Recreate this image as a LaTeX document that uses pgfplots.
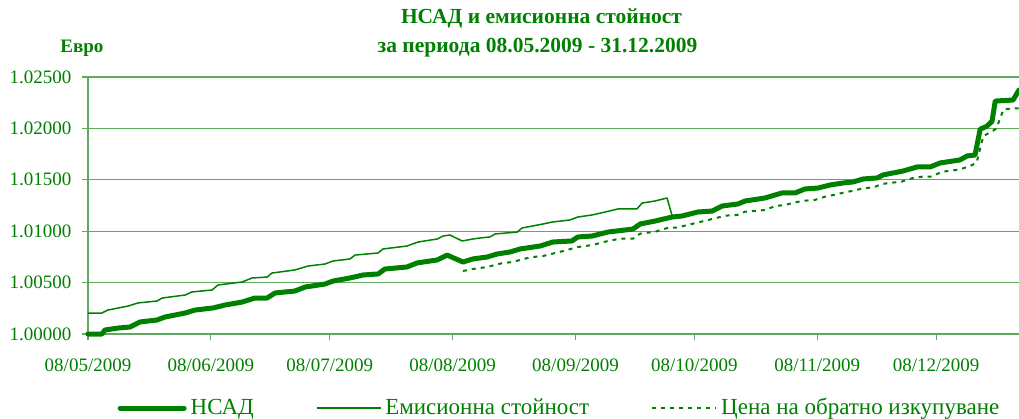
\documentclass[border=0pt]{standalone}
\usepackage{pgfplots}
\pgfplotsset{compat=1.18}
\usepackage{fontspec}
\setmainfont{Liberation Serif}
\definecolor{tgreen}{RGB}{0,128,0}
\definecolor{lgreen}{RGB}{0,128,0}
\definecolor{agreen}{RGB}{96,170,96}
\begin{document}
\fontsize{19bp}{22bp}\selectfont
\begin{tikzpicture}
\begin{axis}[
  at={(0,0)}, anchor=south west,
  scale only axis, width=931bp, height=257bp,
  xmin=0, xmax=234.9, ymin=1, ymax=1.025,
  clip=false,
  axis lines=left,
  axis line style={-, draw=agreen, line width=1.2bp},
  ymajorgrids, grid style={draw=agreen, line width=1.1bp},
  tick align=outside, major tick length=6bp,
  tick style={draw=agreen, line width=1.1bp},
  xtick={0,31,61,92,123,153,184,214},
  xticklabels={08/05/2009,08/06/2009,08/07/2009,08/08/2009,08/09/2009,08/10/2009,08/11/2009,08/12/2009},
  ytick={1,1.005,1.01,1.015,1.02,1.025},
  yticklabels={1.00000,1.00500,1.01000,1.01500,1.02000,1.02500},
  ticklabel style={text=tgreen, font=\fontsize{19bp}{22bp}\selectfont},
  x tick label style={yshift=-12bp},
  y tick label style={xshift=-4bp},
  legend columns=3,
  legend cell align=left,
  legend style={draw=none, fill=none, at={(0.5,0)}, anchor=center, yshift=-74bp, xshift=7bp,
    font=\fontsize{23bp}{26bp}\selectfont, text=tgreen,
    /tikz/every even column/.append style={column sep=58bp},
    nodes={inner xsep=4bp}},
  legend image code/.code={\draw[#1] (0bp,0bp) -- (64bp,0bp);},
]
\addplot[lgreen, line width=5bp, line join=round, line cap=round] coordinates {
(0,1.00000)(3.5,1.00000)(4.3,1.00039)(7.6,1.00058)(10.6,1.00068)(13.1,1.00117)(17.4,1.00136)(19.4,1.00165)(24.5,1.00204)(27.0,1.00233)(31.5,1.00253)(34.6,1.00282)(38.9,1.00311)(42.1,1.00350)(45.2,1.00350)(47.2,1.00399)(52.2,1.00418)(54.8,1.00457)(59.8,1.00486)(61.8,1.00515)(66.1,1.00545)(69.4,1.00574)(73.2,1.00584)(74.9,1.00632)(80.5,1.00652)(83.0,1.00691)(88.1,1.00720)(90.6,1.00768)(94.6,1.00700)(97.1,1.00730)(100.7,1.00749)(103.2,1.00778)(106.5,1.00798)(109.0,1.00827)(114.1,1.00856)(117.3,1.00895)(122.1,1.00905)(123.6,1.00944)(127.2,1.00953)(131.2,1.00992)(137.5,1.01021)(139.3,1.01070)(143.1,1.01099)(147.4,1.01138)(149.9,1.01148)(153.9,1.01187)(157.5,1.01196)(160.0,1.01245)(164.0,1.01265)(165.8,1.01294)(170.8,1.01323)(175.1,1.01372)(178.4,1.01372)(180.9,1.01411)(184.2,1.01420)(187.2,1.01449)(190.5,1.01469)(193.0,1.01479)(195.6,1.01508)(199.1,1.01518)(200.6,1.01547)(205.7,1.01586)(209.2,1.01625)(212.5,1.01625)(215.0,1.01664)(220.0,1.01693)(221.8,1.01732)(223.8,1.01741)(225.1,1.01992)(226.8,1.02021)(228.1,1.02070)(228.9,1.02266)(233.4,1.02276)(234.9,1.02374)
};
\addlegendentry{НСАД}
\addplot[lgreen, line width=1.5bp, line join=round] coordinates {
(0,1.00204)(3.5,1.00204)(5.0,1.00233)(10.1,1.00272)(12.6,1.00302)(17.4,1.00321)(18.7,1.00350)(24.5,1.00379)(26.2,1.00409)(31.3,1.00428)(32.8,1.00477)(38.9,1.00506)(41.4,1.00545)(45.2,1.00554)(46.4,1.00593)(52.2,1.00623)(55.5,1.00661)(59.8,1.00681)(61.8,1.00710)(66.1,1.00730)(67.4,1.00768)(73.2,1.00788)(74.4,1.00827)(80.5,1.00856)(83.3,1.00895)(88.1,1.00924)(89.6,1.00953)(91.3,1.00963)(94.4,1.00905)(97.1,1.00924)(98.9,1.00934)(101.4,1.00944)(102.7,1.00973)(108.3,1.00992)(109.5,1.01031)(114.8,1.01070)(117.1,1.01089)(121.6,1.01109)(123.6,1.01138)(127.2,1.01158)(130.5,1.01187)(133.7,1.01216)(138.5,1.01216)(139.8,1.01274)(143.1,1.01294)(146.1,1.01323)(147.4,1.01148)
};
\addlegendentry{Емисионна стойност}
\addplot[lgreen, line width=2bp, dash pattern=on 4bp off 5bp] coordinates {
(94.6,1.00613)(97.1,1.00632)(100.7,1.00652)(104.7,1.00691)(107.2,1.00700)(109.8,1.00730)(112.3,1.00749)(114.8,1.00759)(119.9,1.00807)(123.6,1.00846)(127.2,1.00865)(131.2,1.00905)(134.2,1.00927)(137.5,1.00927)(139.3,1.00976)(143.1,1.00995)(146.4,1.01034)(148.6,1.01034)(151.2,1.01060)(153.7,1.01083)(158.2,1.01125)(160.7,1.01151)(163.8,1.01158)(165.8,1.01190)(170.8,1.01206)(173.4,1.01245)(175.9,1.01255)(178.4,1.01281)(180.9,1.01297)(183.4,1.01304)(186.0,1.01336)(188.1,1.01352)(190.6,1.01375)(193.1,1.01394)(195.6,1.01417)(198.2,1.01427)(200.3,1.01459)(202.8,1.01472)(205.3,1.01482)(207.8,1.01514)(210.4,1.01530)(212.9,1.01530)(215.4,1.01579)(217.9,1.01589)(220.0,1.01602)(222.6,1.01634)(224.2,1.01667)(225.9,1.01926)(228.0,1.01968)(229.2,1.02000)(231.0,1.02186)(233.9,1.02196)(234.9,1.02196)
};
\addlegendentry{Цена на обратно изкупуване}
\node[anchor=base, text=tgreen, font=\bfseries\fontsize{21.5bp}{24bp}\selectfont, xshift=-12bp, yshift=53bp] at (axis description cs:0.5,1) {НСАД и емисионна стойност};
\node[anchor=base, text=tgreen, font=\bfseries\fontsize{21.5bp}{24bp}\selectfont, xshift=-16bp, yshift=25bp] at (axis description cs:0.5,1) {за периода 08.05.2009 - 31.12.2009};
\node[anchor=base, text=tgreen, font=\bfseries\fontsize{19bp}{22bp}\selectfont, xshift=-6bp, yshift=25bp] at (axis description cs:0,1) {Евро};
\end{axis}
\pgfresetboundingbox
\path[use as bounding box] (-88bp,-85bp) rectangle (931bp,334bp);
\end{tikzpicture}
\end{document}
